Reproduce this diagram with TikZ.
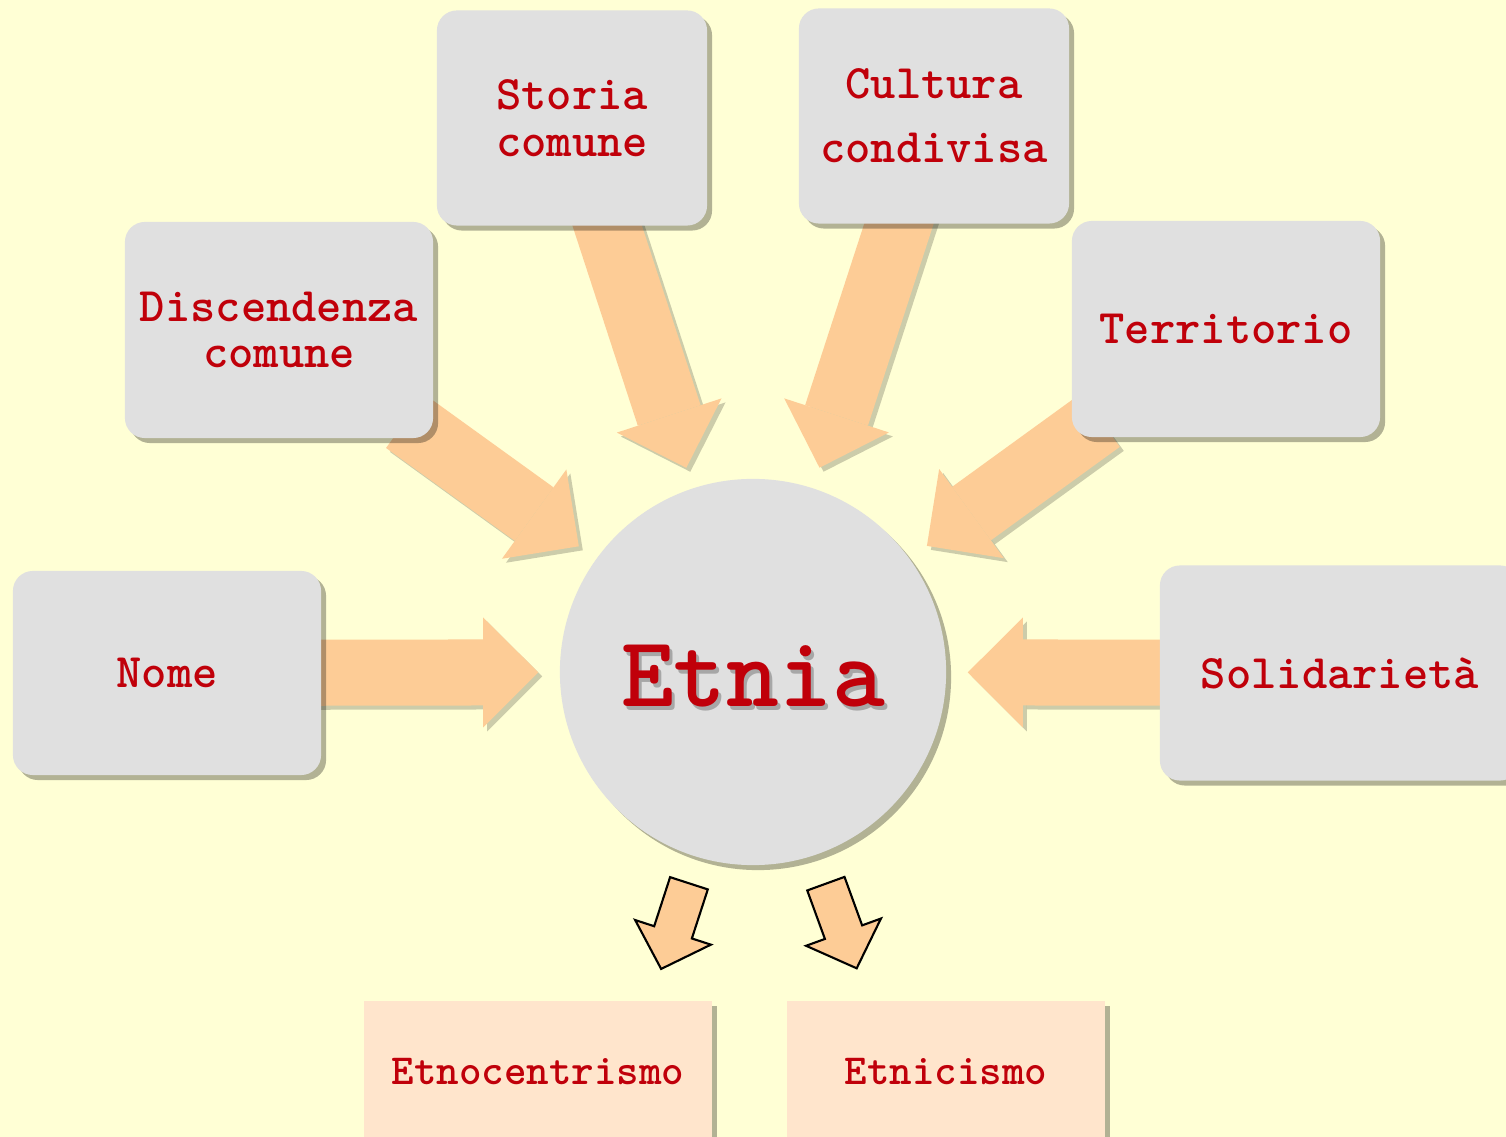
\documentclass[tikz,border=0pt]{standalone}
\usepackage{fontspec}
\usetikzlibrary{shapes.arrows,shadows,arrows.meta}

\definecolor{paleyellow}{RGB}{255,255,213}
\definecolor{cardgrey}{RGB}{224,224,224}
\definecolor{etniared}{RGB}{192,0,10}
\definecolor{arrowpeach}{RGB}{253,204,150}
\definecolor{boxpeach}{RGB}{255,229,204}

\pgfdeclarelayer{bg}
\pgfdeclarelayer{behind}
\pgfsetlayers{bg,behind,main}

\tikzset{
  soft shadow/.style={drop shadow={shadow xshift=0.05cm, shadow yshift=-0.05cm,
      fill=black, opacity=0.3}},
  card/.style={fill=cardgrey, rounded corners=0.2cm, align=center,
    text=etniared, font=\ttfamily\bfseries\fontsize{13.7}{13.2}\selectfont,
    soft shadow},
  outcome/.style={card, fill=boxpeach, rounded corners=0cm,
    font=\ttfamily\bfseries\fontsize{12.2}{14}\selectfont},
  hub/.style={circle, fill=cardgrey, minimum size=3.86cm, inner sep=0pt,
    soft shadow},
  hubtext/.style={text=etniared, font=\ttfamily\bfseries\fontsize{28.6}{32}\selectfont},
  fatarrow/.style={draw=arrowpeach, line width=0.66cm,
    -{Triangle[length=0.55cm, width=1.1cm, line width=0pt]},
    shorten >=0.21cm, shorten <=-0.3cm},
  fatshade/.style={fatarrow, draw=black, opacity=0.2,
    transform canvas={shift={(0.04cm,-0.04cm)}}},
  smallarrow/.style={single arrow, draw=black, fill=arrowpeach,
    line width=0.6pt, inner sep=0pt, minimum height=0.9cm,
    single arrow head extend=0.2cm, single arrow tip angle=92}
}

\begin{document}
\begin{tikzpicture}[x=0.01cm, y=-0.01cm]
\useasboundingbox (0,0) rectangle (1506,1137);
\begin{pgfonlayer}{bg}
\fill[paleyellow] (0,0) rectangle (1506,1137);
\end{pgfonlayer}

\node[hub] (etnia) at (753,672) {};
\node[hubtext, text=black, opacity=0.25] (etniashade) at (756,680) {Etnia};
\node[hubtext] (etnialabel) at (753,676) {Etnia};

\node[card, minimum width=2.7cm, minimum height=2.15cm] (storia) at (572,118) {Storia\\comune};
\node[card, minimum width=2.7cm, minimum height=2.15cm] (cultura) at (934,116) {Cultura\\[5pt]condivisa};
\node[card, minimum width=3.08cm, minimum height=2.16cm] (discendenza) at (279,330) {Discendenza\\comune};
\node[card, minimum width=3.08cm, minimum height=2.16cm] (territorio) at (1226,329) {Territorio};
\node[card, minimum width=3.08cm, minimum height=2.04cm] (nome) at (167,673) {Nome};
\node[card, minimum width=3.6cm, minimum height=2.15cm] (solidarieta) at (1340,673) {Solidariet\`a};

\node[outcome, minimum width=3.48cm, minimum height=1.42cm] (etnocentrismo) at (538,1072) {Etnocentrismo};
\node[outcome, minimum width=3.18cm, minimum height=1.42cm] (etnicismo) at (946,1072) {Etnicismo};

\node[smallarrow, rotate=-108] (downleft) at (678,917) {\rule{0pt}{0.375cm}};
\node[smallarrow, rotate=-70] (downright) at (838,917) {\rule{0pt}{0.375cm}};

\begin{pgfonlayer}{behind}
\foreach \src in {nome,discendenza,storia,cultura,territorio,solidarieta}
  \draw[fatshade] (\src) -- (etnia);
\foreach \src in {nome,discendenza,storia,cultura,territorio,solidarieta}
  \draw[fatarrow] (\src) -- (etnia);
\end{pgfonlayer}
\end{tikzpicture}
\end{document}
